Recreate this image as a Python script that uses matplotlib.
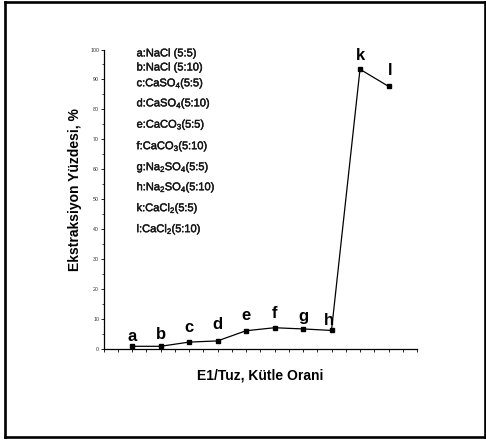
import matplotlib
matplotlib.use("Agg")
import matplotlib.pyplot as plt
import matplotlib.patheffects as pe
from matplotlib.lines import Line2D
from matplotlib.ticker import MultipleLocator, NullFormatter

plt.rcParams["font.family"] = ["Liberation Sans", "DejaVu Sans"]
plt.rcParams["mathtext.fontset"] = "custom"
plt.rcParams["mathtext.rm"] = "Liberation Sans"
plt.rcParams["mathtext.it"] = "Liberation Sans"

# Samples along the x axis and their extraction percentages
point_labels = ["a", "b", "c", "d", "e", "f", "g", "h", "k", "l"]
x_positions = [1, 2, 3, 4, 5, 6, 7, 8, 9, 10]
extraction = [0.9, 0.9, 2.3, 2.7, 6.1, 7.1, 6.7, 6.2, 93.4, 87.7]

# Legend text describing each sample (salt and mass ratio)
legend_entries = [
    "a:NaCl (5:5)",
    "b:NaCl (5:10)",
    "c:CaSO$_4$(5:5)",
    "d:CaSO$_4$(5:10)",
    "e:CaCO$_3$(5:5)",
    "f:CaCO$_3$(5:10)",
    "g:Na$_2$SO$_4$(5:5)",
    "h:Na$_2$SO$_4$(5:10)",
    "k:CaCl$_2$(5:5)",
    "l:CaCl$_2$(5:10)",
]
legend_y = [98.7, 94.0, 88.7, 82.0, 74.9, 67.7, 60.7, 54.0, 47.0, 40.0]

# Pixel offsets of the point letters relative to their markers
label_dx = [0, 0, 0, 0, 0, 0, 0, -3, 0, 2]
label_dy = [5, 7, 10, 12, 11, 10, 8, 5, 9, 11]

W, H = 486, 441
fig = plt.figure(figsize=(W / 100, H / 100), dpi=100)
fig.patch.set_facecolor("white")

left, right, top, bottom = 103.5, 417.0, 49.5, 349.0
ax = fig.add_axes([left / W, (H - bottom) / H, (right - left) / W, (bottom - top) / H])

ax.plot(x_positions, extraction, color="black", lw=0.9, marker="s", ms=2.6,
        mfc="black", mec="black", zorder=3)

for lab, x, y, dx, dy in zip(point_labels, x_positions, extraction, label_dx, label_dy):
    ax.annotate(lab, (x, y), xytext=(dx * 0.72, dy * 0.72), textcoords="offset points",
                ha="center", va="baseline", fontsize=12, fontweight="bold")

for txt, y in zip(legend_entries, legend_y):
    ax.text(1.16, y, txt, ha="left", va="center", fontsize=8, color="#161616",
            path_effects=[pe.withStroke(linewidth=0.3, foreground="#161616")])

ax.set_xlim(0, 11)
ax.set_ylim(0, 100)
for s in ("top", "right"):
    ax.spines[s].set_visible(False)
for s in ("left", "bottom"):
    ax.spines[s].set_linewidth(0.9)

ax.xaxis.set_major_locator(MultipleLocator(0.5))
ax.xaxis.set_major_formatter(NullFormatter())
ax.yaxis.set_major_locator(MultipleLocator(10))
ax.yaxis.set_minor_locator(MultipleLocator(5))
ax.tick_params(axis="x", direction="out", length=2.2, width=0.6)
ax.tick_params(axis="y", which="major", direction="out", length=2.2, width=0.6,
               labelsize=3.8, pad=1.0, labelcolor="#333333")
ax.tick_params(axis="y", which="minor", direction="out", length=1.4, width=0.5)

ax.set_ylabel("Ekstraksiyon Yüzdesi, %", fontsize=10, fontweight="bold")
ax.yaxis.set_label_coords((75 - left) / (right - left), 0.533)
ax.set_xlabel("E1/Tuz, Kütle Orani", fontsize=10, fontweight="bold")
ax.xaxis.set_label_coords(0.5, (bottom - 375) / (bottom - top))
ax.xaxis.label.set_va("center")
ax.yaxis.label.set_va("center")

# Outer border around the figure
def fig_line(x0, y0, x1, y1):
    fig.add_artist(Line2D([x0 / W, x1 / W], [1 - y0 / H, 1 - y1 / H],
                          color="black", lw=1.9, solid_capstyle="projecting"))

fig_line(5, 1.5, 485, 1.5)
fig_line(5, 1.5, 5, 437)
fig_line(5, 437, 485, 437)
fig_line(485, 1.5, 485, 437)

fig.savefig("out.png", dpi=100, facecolor="white")
